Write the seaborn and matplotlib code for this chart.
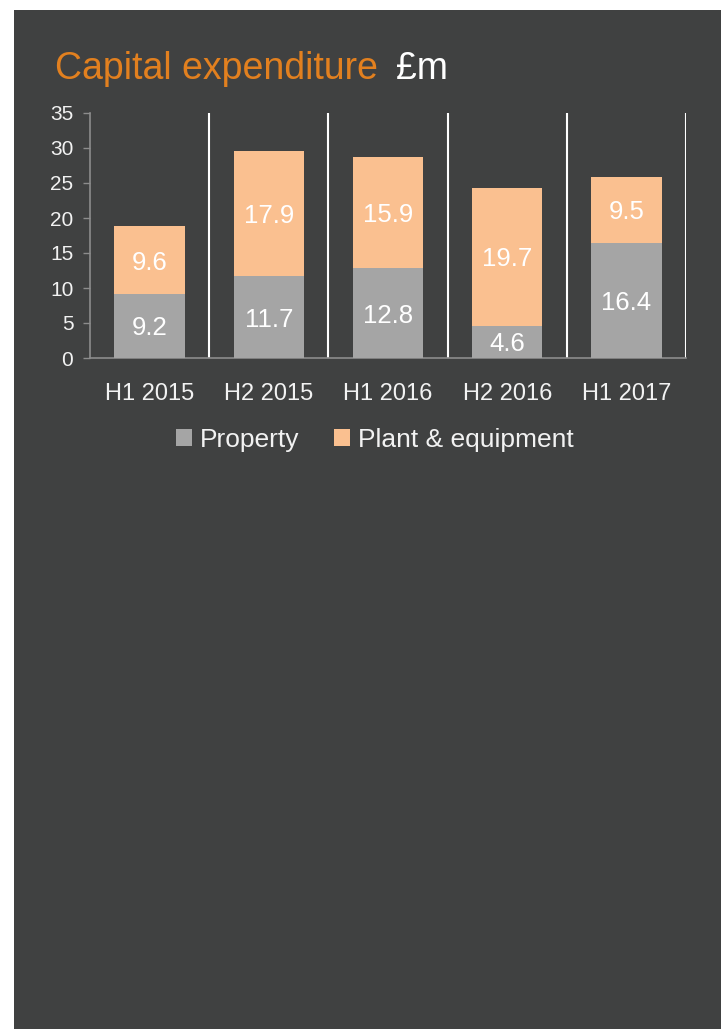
import numpy as np
import pandas as pd
import matplotlib
matplotlib.use('Agg')
import matplotlib.pyplot as plt
from matplotlib.patches import Rectangle, Patch
import seaborn as sns

# Chart data
periods = ['H1 2015', 'H2 2015', 'H1 2016', 'H2 2016', 'H1 2017']
property_vals = [9.2, 11.7, 12.8, 4.6, 16.4]
plant_vals = [9.6, 17.9, 15.9, 19.7, 9.5]

BG = '#404141'
GREY = '#A5A5A5'
PEACH = '#FAC090'
ORANGE = '#E2801F'
TXT = '#F2F2F2'

sns.set_style('dark')
plt.rcParams['font.family'] = ['Liberation Sans', 'DejaVu Sans']

df = pd.DataFrame({'period': periods, 'property': property_vals, 'plant': plant_vals})
df['total'] = df['property'] + df['plant']

fig = plt.figure(figsize=(7.21, 10.29), dpi=100)
fig.patch.set_facecolor('white')
fig.patches.append(Rectangle((14 / 721, 0), 1, 1 - 10 / 1029, transform=fig.transFigure,
                             facecolor=BG, edgecolor='none', zorder=-1))

ax = fig.add_axes([90 / 721, 1 - 358 / 1029, 596 / 721, 245 / 1029])
ax.set_facecolor(BG)

# stacked look: draw totals first, then property over them
sns.barplot(data=df, x='period', y='total', color=PEACH, width=0.59, saturation=1,
            linewidth=0, edgecolor='none', ax=ax, zorder=2)
sns.barplot(data=df, x='period', y='property', color=GREY, width=0.59, saturation=1,
            linewidth=0, edgecolor='none', ax=ax, zorder=3)

for i, (p, q) in enumerate(zip(property_vals, plant_vals)):
    ax.text(i, p / 2, f'{p}', ha='center', va='center_baseline', color='white', fontsize=18.5, zorder=4)
    ax.text(i, p + q / 2, f'{q}', ha='center', va='center_baseline', color='white', fontsize=18.5, zorder=4)

# white separators between periods
for i in range(len(periods)):
    ax.axvline(i + 0.5, color='white', lw=1.5, zorder=1)

ax.set_xlim(-0.5, len(periods) - 0.5)
ax.set_ylim(0, 35)
ax.set_yticks(np.arange(0, 36, 5))
ax.grid(False)
ax.set_xlabel('')
ax.set_ylabel('')

for s in ['top', 'right']:
    ax.spines[s].set_visible(False)
for s in ['left', 'bottom']:
    ax.spines[s].set_visible(True)
    ax.spines[s].set_color('#8C8C8C')
    ax.spines[s].set_linewidth(1.2)

ax.tick_params(axis='y', colors='#8C8C8C', labelcolor=TXT, labelsize=15, length=5, width=1, left=True, pad=7)
ax.tick_params(axis='x', labelcolor=TXT, labelsize=17, length=0, pad=18)

# title
fig.text(55 / 721, 1 - 69 / 1029, 'Capital expenditure', color=ORANGE, fontsize=27, va='center')
fig.text(396 / 721, 1 - 69 / 1029, '£m', color='white', fontsize=27, va='center')

handles = [Patch(facecolor=GREY, edgecolor='none', label='Property'),
           Patch(facecolor=PEACH, edgecolor='none', label='Plant & equipment')]
leg = fig.legend(handles=handles, loc='center', bbox_to_anchor=(375 / 721, 1 - 440 / 1029), ncol=2,
                 frameon=False, fontsize=19, handlelength=0.6, handleheight=0.6,
                 handletextpad=0.3, columnspacing=1.3)
for t in leg.get_texts():
    t.set_color(TXT)

fig.savefig('out.png', dpi=100)
